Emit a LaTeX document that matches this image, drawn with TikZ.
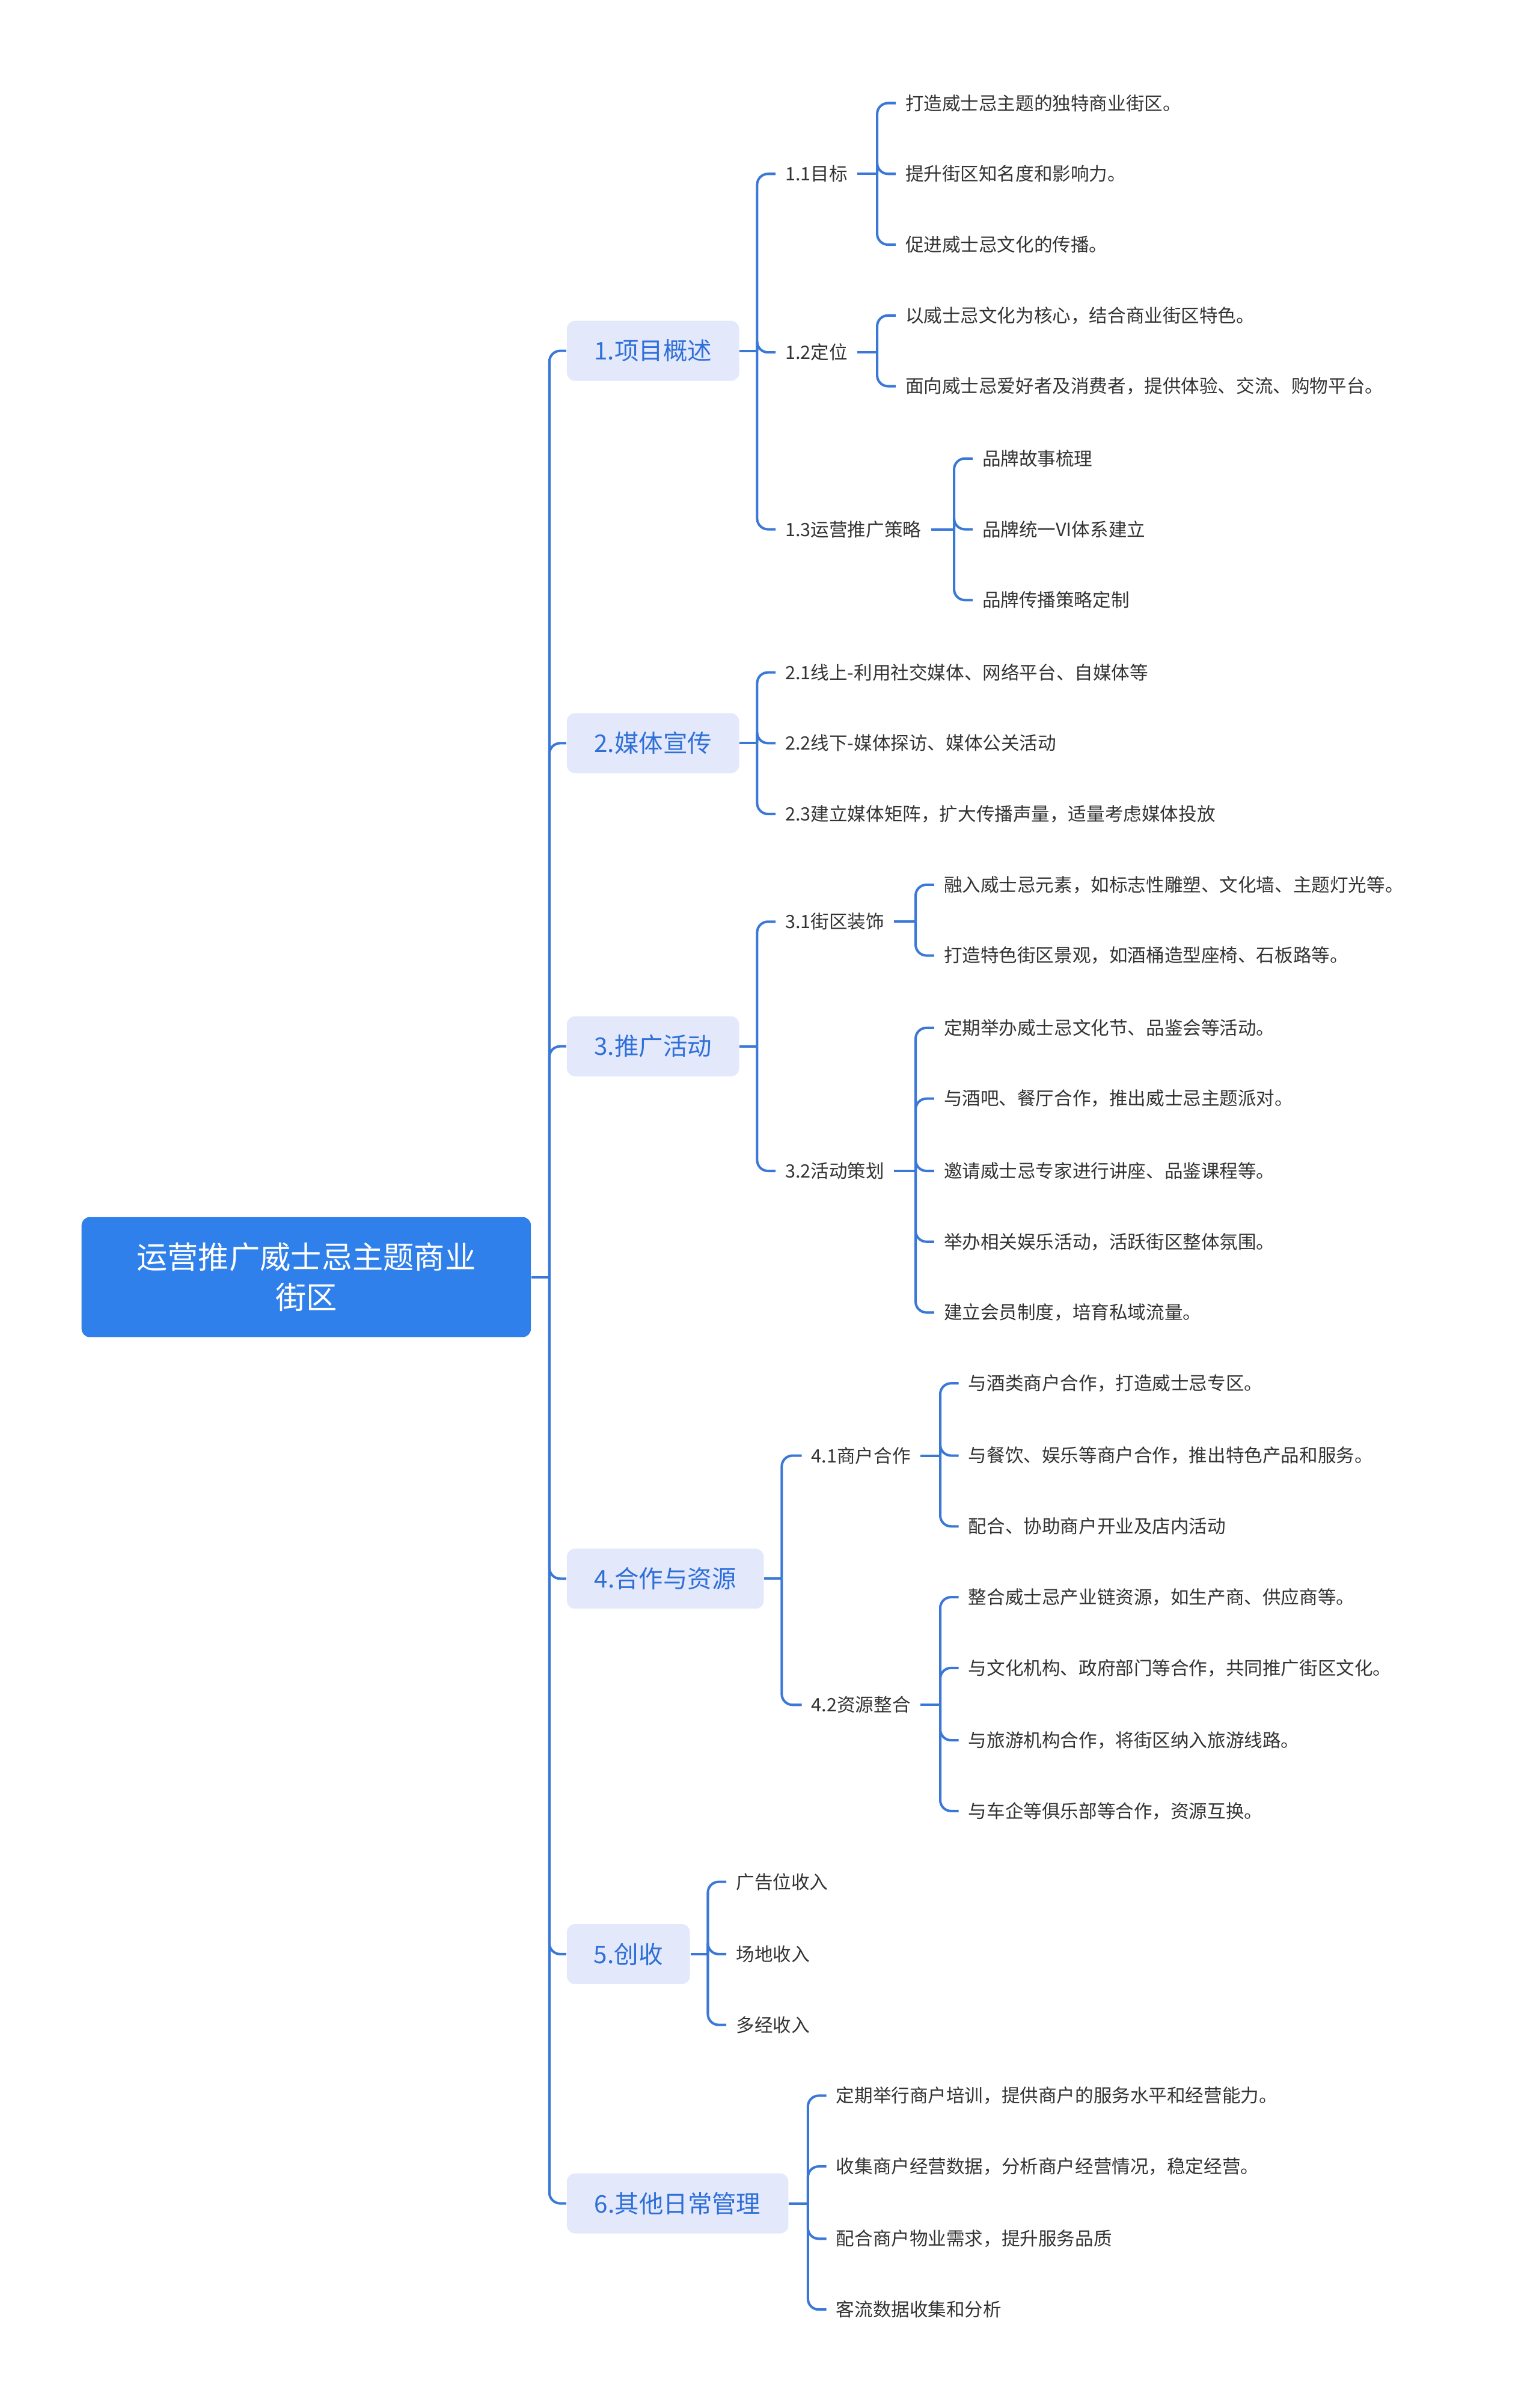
\documentclass[tikz,border=0pt]{standalone}
\usepackage{fontspec}
\setmainfont{Noto Sans CJK SC}
\begin{document}
\begin{tikzpicture}[x=0.02cm,y=-0.02cm,
  conn/.style={draw=lineblue,line width=0.9pt,rounded corners=4pt},
  leaf/.style={anchor=west,inner xsep=0.12cm,xshift=-0.12cm,inner ysep=1pt,font=\fontsize{6.8}{8}\selectfont,text=black!80},
  lone/.style={anchor=west,fill=boxfill,text=textblue,rounded corners=3pt,minimum height=0.78cm,font=\fontsize{9}{11}\selectfont,inner sep=0pt}]
\definecolor{lineblue}{HTML}{3A78D8}
\definecolor{boxfill}{HTML}{E3E9FB}
\definecolor{textblue}{HTML}{2F6FD8}
\definecolor{rootblue}{HTML}{2F80EA}
\useasboundingbox (0,0) rectangle (1000,1565);
\fill[white] (0,0) rectangle (1000,1565);
% root
\node[fill=rootblue,text=white,rounded corners=3pt,minimum width=5.84cm,minimum height=1.56cm,align=center,font=\fontsize{11.4}{15}\selectfont] (root) at (199,830) {运营推广威士忌主题商业\\街区};
% level 1
\node[lone,minimum width=2.24cm] (a) at (368,228) {1.项目概述};
\node[lone,minimum width=2.24cm] (b) at (368,483) {2.媒体宣传};
\node[lone,minimum width=2.24cm] (c) at (368,680) {3.推广活动};
\node[lone,minimum width=2.56cm] (d) at (368,1026) {4.合作与资源};
\node[lone,minimum width=1.6cm] (e) at (368,1270) {5.创收};
\node[lone,minimum width=2.88cm] (f) at (368,1432) {6.其他日常管理};
\coordinate (t0) at (357,830);
\draw[conn] (root.east) -- (t0);
\foreach \n in {a,b,c,d,e,f}{\draw[conn] (t0) |- (\n.west);}
% level 2
\node[leaf] (a1) at (510,113) {1.1目标};
\node[leaf] (a2) at (510,229) {1.2定位};
\node[leaf] (a3) at (510,344) {1.3运营推广策略};
\node[leaf] (b1) at (510,437) {2.1线上-利用社交媒体、网络平台、自媒体等};
\node[leaf] (b2) at (510,483) {2.2线下-媒体探访、媒体公关活动};
\node[leaf] (b3) at (510,529) {2.3建立媒体矩阵，扩大传播声量，适量考虑媒体投放};
\node[leaf] (c1) at (510,599) {3.1街区装饰};
\node[leaf] (c2) at (510,761) {3.2活动策划};
\node[leaf] (d1) at (527,946) {4.1商户合作};
\node[leaf] (d2) at (527,1108) {4.2资源整合};
\node[leaf] (e1) at (478,1223) {广告位收入};
\node[leaf] (e2) at (478,1270) {场地收入};
\node[leaf] (e3) at (478,1316) {多经收入};
\node[leaf] (f1) at (543,1362) {定期举行商户培训，提供商户的服务水平和经营能力。};
\node[leaf] (f2) at (543,1408) {收集商户经营数据，分析商户经营情况，稳定经营。};
\node[leaf] (f3) at (543,1455) {配合商户物业需求，提升服务品质};
\node[leaf] (f4) at (543,1501) {客流数据收集和分析};
\coordinate (va) at (492,228);
\coordinate (vb) at (492,483);
\coordinate (vc) at (492,680);
\coordinate (vd) at (508,1026);
\coordinate (ve) at (460,1270);
\coordinate (vf) at (525,1432);
\draw[conn] (a.east) -- (va);
\foreach \n in {a1,a2,a3}{\draw[conn] (va) |- (\n.west);}
\draw[conn] (b.east) -- (vb);
\foreach \n in {b1,b2,b3}{\draw[conn] (vb) |- (\n.west);}
\draw[conn] (c.east) -- (vc);
\foreach \n in {c1,c2}{\draw[conn] (vc) |- (\n.west);}
\draw[conn] (d.east) -- (vd);
\foreach \n in {d1,d2}{\draw[conn] (vd) |- (\n.west);}
\draw[conn] (e.east) -- (ve);
\foreach \n in {e1,e2,e3}{\draw[conn] (ve) |- (\n.west);}
\draw[conn] (f.east) -- (vf);
\foreach \n in {f1,f2,f3,f4}{\draw[conn] (vf) |- (\n.west);}
% level 3
\node[leaf] (a11) at (588,67) {打造威士忌主题的独特商业街区。};
\node[leaf] (a12) at (588,113) {提升街区知名度和影响力。};
\node[leaf] (a13) at (588,159) {促进威士忌文化的传播。};
\node[leaf] (a21) at (588,205) {以威士忌文化为核心，结合商业街区特色。};
\node[leaf] (a22) at (588,251) {面向威士忌爱好者及消费者，提供体验、交流、购物平台。};
\node[leaf] (a31) at (638,298) {品牌故事梳理};
\node[leaf] (a32) at (638,344) {品牌统一VI体系建立};
\node[leaf] (a33) at (638,390) {品牌传播策略定制};
\node[leaf] (c11) at (613,575) {融入威士忌元素，如标志性雕塑、文化墙、主题灯光等。};
\node[leaf] (c12) at (613,621) {打造特色街区景观，如酒桶造型座椅、石板路等。};
\node[leaf] (c21) at (613,668) {定期举办威士忌文化节、品鉴会等活动。};
\node[leaf] (c22) at (613,714) {与酒吧、餐厅合作，推出威士忌主题派对。};
\node[leaf] (c23) at (613,761) {邀请威士忌专家进行讲座、品鉴课程等。};
\node[leaf] (c24) at (613,807) {举办相关娱乐活动，活跃街区整体氛围。};
\node[leaf] (c25) at (613,853) {建立会员制度，培育私域流量。};
\node[leaf] (d11) at (629,899) {与酒类商户合作，打造威士忌专区。};
\node[leaf] (d12) at (629,946) {与餐饮、娱乐等商户合作，推出特色产品和服务。};
\node[leaf] (d13) at (629,992) {配合、协助商户开业及店内活动};
\node[leaf] (d21) at (629,1038) {整合威士忌产业链资源，如生产商、供应商等。};
\node[leaf] (d22) at (629,1084) {与文化机构、政府部门等合作，共同推广街区文化。};
\node[leaf] (d23) at (629,1131) {与旅游机构合作，将街区纳入旅游线路。};
\node[leaf] (d24) at (629,1177) {与车企等俱乐部等合作，资源互换。};
\coordinate (va1) at (570,113);
\coordinate (va2) at (570,229);
\coordinate (va3) at (620,344);
\coordinate (vc1) at (595,599);
\coordinate (vc2) at (595,761);
\coordinate (vd1) at (611,946);
\coordinate (vd2) at (611,1108);
\draw[conn] (a1.east) -- (va1);
\foreach \n in {a11,a12,a13}{\draw[conn] (va1) |- (\n.west);}
\draw[conn] (a2.east) -- (va2);
\foreach \n in {a21,a22}{\draw[conn] (va2) |- (\n.west);}
\draw[conn] (a3.east) -- (va3);
\foreach \n in {a31,a32,a33}{\draw[conn] (va3) |- (\n.west);}
\draw[conn] (c1.east) -- (vc1);
\foreach \n in {c11,c12}{\draw[conn] (vc1) |- (\n.west);}
\draw[conn] (c2.east) -- (vc2);
\foreach \n in {c21,c22,c23,c24,c25}{\draw[conn] (vc2) |- (\n.west);}
\draw[conn] (d1.east) -- (vd1);
\foreach \n in {d11,d12,d13}{\draw[conn] (vd1) |- (\n.west);}
\draw[conn] (d2.east) -- (vd2);
\foreach \n in {d21,d22,d23,d24}{\draw[conn] (vd2) |- (\n.west);}
\end{tikzpicture}
\end{document}
